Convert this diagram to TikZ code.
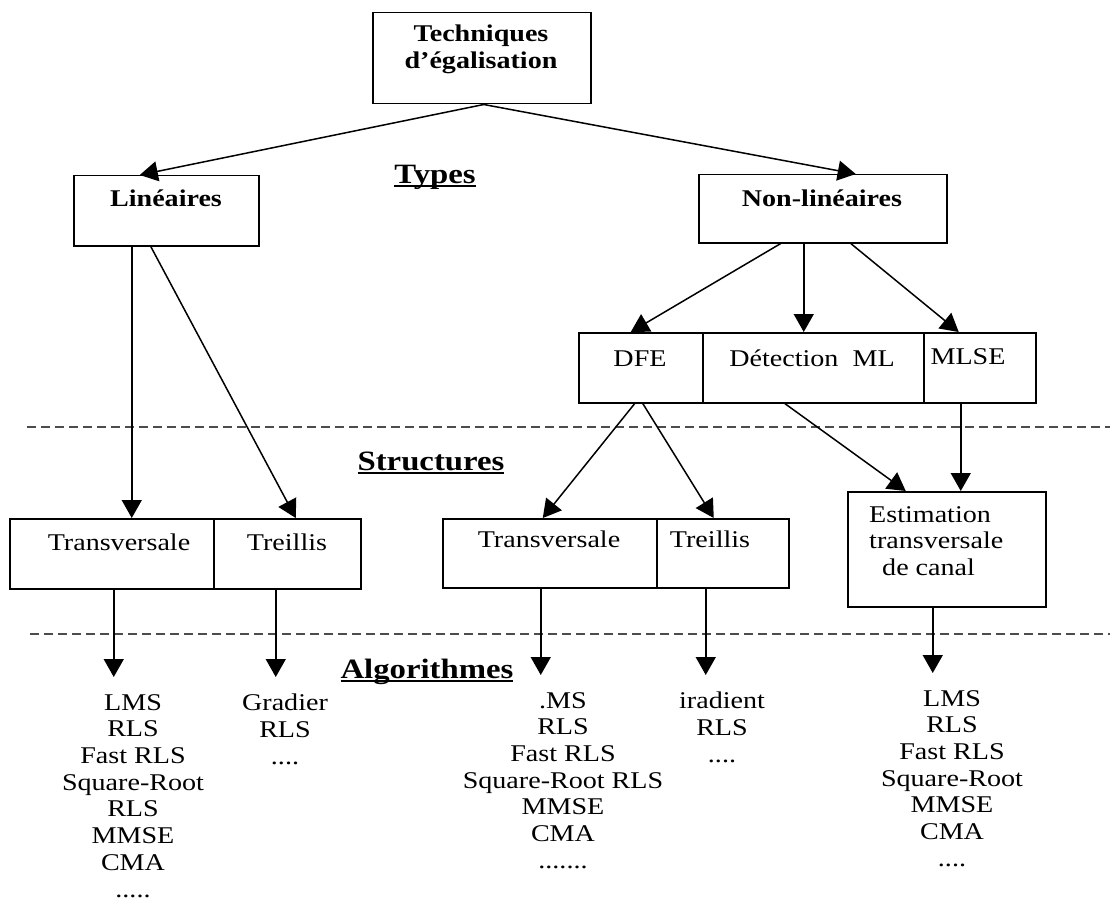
\documentclass[tikz,border=0pt]{standalone}
\usepackage{fontspec}
\setmainfont{Liberation Serif}[FakeStretch=1.17]
\usetikzlibrary{arrows.meta,calc}
\newcommand\myul[1]{\setbox0\hbox{#1}\rlap{\rule[-4pt]{\wd0}{1.8pt}}\box0}
\tikzset{
 box/.style={draw, line width=1.5pt, rectangle, inner sep=0pt, anchor=north west},
 btxt/.style={font=\fontsize{24}{26.7}\selectfont\bfseries, inner sep=0pt, anchor=base},
 txt/.style={font=\fontsize{24}{26.7}\selectfont, inner sep=0pt, anchor=base},
 sec/.style={font=\fontsize{28}{30}\selectfont\bfseries, inner sep=0pt, anchor=base},
 arr/.style={line width=1.5pt, -{Triangle[length=18pt,width=20pt]}},
 lst/.style={font=\fontsize{24}{26.7}\selectfont, align=center, anchor=north, inner xsep=0pt, inner ysep=17pt},
 dline/.style={dash pattern=on 9pt off 5pt, line width=1.4pt, black!70},
}
\begin{document}
\begin{tikzpicture}[x=1pt,y=-1pt]
\useasboundingbox (0,0) rectangle (1110,904);
% boxes
\node[box, minimum width=218pt, minimum height=91pt] (top) at (372,12) {};
\node[box, minimum width=185pt, minimum height=70pt] (lin) at (73,175) {};
\node[box, minimum width=248pt, minimum height=68pt] (nlin) at (698,174) {};
\node[box, minimum width=124pt, minimum height=70pt] (dfe) at (578,332) {};
\node[box, minimum width=221pt, minimum height=70pt] (ml) at (702,332) {};
\node[box, minimum width=112pt, minimum height=70pt] (mlse) at (923,332) {};
\node[box, minimum width=204pt, minimum height=70pt] (tr1) at (9,518) {};
\node[box, minimum width=147pt, minimum height=70pt] (te1) at (213,518) {};
\node[box, minimum width=214pt, minimum height=69pt] (tr2) at (442,518) {};
\node[box, minimum width=132pt, minimum height=69pt] (te2) at (656,518) {};
\node[box, minimum width=198pt, minimum height=115pt] (est) at (847,491) {};
% box texts
\node[btxt, align=center, anchor=center] (topt) at (481,49) {Techniques\\d'égalisation};
\node[btxt] (lint) at (166,207) {Linéaires};
\node[btxt] (nlint) at (822,206) {Non-linéaires};
\node[txt] (dfet) at (640,366) {DFE};
\node[txt] (mlt) at (812,366) {Détection\ \ ML};
\node[txt] (mlset) at (968,364) {MLSE};
\node[txt] (tr1t) at (119,550) {Transversale};
\node[txt] (te1t) at (287,550) {Treillis};
\node[txt] (tr2t) at (549,547) {Transversale};
\node[txt] (te2t) at (710,547) {Treillis};
\node[txt, align=left, anchor=north west] (estt) at (869,506) {Estimation\\transversale\\\hspace*{13pt}de canal};
% section labels
\node[sec] (types) at (435,183) {\myul{Types}};
\node[sec] (struct) at (431,470) {\myul{Structures}};
\node[sec] (algo) at (427,678) {\myul{Algorithmes}};
% lists
\node[lst] (alg1) at (133,677) {LMS\\RLS\\Fast RLS\\Square-Root\\RLS\\MMSE\\CMA\\.....};
\node[lst] (alg2) at (285,677) {Gradier\\RLS\\....};
\node[lst] (alg3) at (563,675) {.MS\\RLS\\Fast RLS\\Square-Root RLS\\MMSE\\CMA\\.......};
\node[lst] (alg4) at (722,675) {iradient\\RLS\\....};
\node[lst] (alg5) at (952,673) {LMS\\RLS\\Fast RLS\\Square-Root\\MMSE\\CMA\\....};
% dashed separators
\draw[dline] (27,427) -- (1110,427);
\draw[dline] (30,634) -- (1110,634);
% connectors
\draw[arr] ([xshift=2pt]top.south) -- ([xshift=-26.5pt]lin.north);
\draw[arr] ([xshift=2pt]top.south) -- ([xshift=33pt]nlin.north);
\draw[arr] ([xshift=-42pt]nlin.south) -- ([xshift=-10pt]dfe.north);
\draw[arr] ([xshift=-19pt]nlin.south) -- ([xshift=-19pt]nlin.south |- ml.north);
\draw[arr] ([xshift=28pt]nlin.south) -- ([xshift=-21pt]mlse.north);
\draw[arr] ([xshift=-34.5pt]lin.south) -- ([xshift=-34.5pt]lin.south |- tr1.north);
\draw[arr] ([xshift=-15.5pt]lin.south) -- ([xshift=8.5pt]te1.north);
\draw[arr] ([xshift=-6pt]dfe.south) -- ([xshift=-7pt]tr2.north);
\draw[arr] ([xshift=2pt]dfe.south) -- ([xshift=-9pt]te2.north);
\draw[arr] ([xshift=-28.5pt]ml.south) -- ([xshift=-41pt]est.north);
\draw[arr] ([xshift=-19pt]mlse.south) -- ([xshift=-19pt]mlse.south |- est.north);
\draw[arr] ([xshift=2pt]tr1.south) -- ([xshift=2pt]tr1.south |- alg1.north);
\draw[arr] ([xshift=-11.5pt]te1.south) -- ([xshift=-11.5pt]te1.south |- alg2.north);
\draw[arr] ([xshift=-9pt]tr2.south) -- ([xshift=-9pt]tr2.south |- alg3.north);
\draw[arr] ([xshift=-17pt]te2.south) -- ([xshift=-17pt]te2.south |- alg4.north);
\draw[arr] ([xshift=-14pt]est.south) -- ([xshift=-14pt]est.south |- alg5.north);
\end{tikzpicture}
\end{document}
